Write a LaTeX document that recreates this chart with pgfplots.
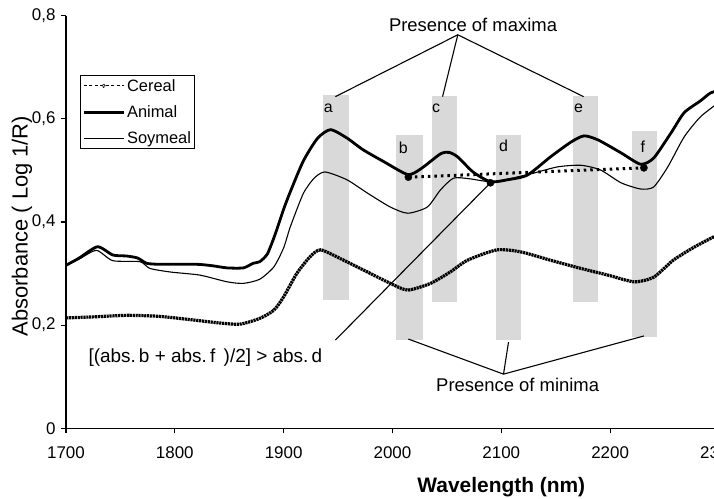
\documentclass[border=0pt]{standalone}
\usepackage{fontspec}
\setmainfont{Liberation Sans}
\usepackage{pgfplots}
\pgfplotsset{compat=1.18}
\definecolor{barg}{RGB}{217,217,217}
\begin{document}
\begin{tikzpicture}
\begin{axis}[
  name=ax,
  scale only axis, width=653bp, height=412.6bp,
  xmin=1700, xmax=2300, ymin=0, ymax=0.8,
  axis lines=left,
  axis line style={-, line width=1.3bp, black},
  xtick={1700,1800,1900,2000,2100,2200,2300},
  ytick={0,0.2,0.4,0.6,0.8},
  tick align=outside, major tick length=5bp,
  tick style={line width=1.1bp, black},
  /pgf/number format/use comma,
  /pgf/number format/1000 sep={},
  /pgf/number format/assume math mode=true,
  tick label style={font=\fontsize{17}{20}\selectfont},
  xticklabel style={yshift=-10bp},
  yticklabel style={xshift=-2bp},
  clip=false,
  legend style={at={(axis cs:1713,0.685)}, anchor=north west, draw=black,
    line width=1.2bp, font=\fontsize{16.5}{19}\selectfont, inner sep=1.5bp,
    row sep=9bp},
  legend cell align=left,
]
% gray bars
\addplot[fill=barg, draw=none, forget plot] coordinates {(1936.3,0.249) (1960.2,0.249) (1960.2,0.646) (1936.3,0.646)} -- cycle;
\addplot[fill=barg, draw=none, forget plot] coordinates {(2003.3,0.171) (2028.1,0.171) (2028.1,0.569) (2003.3,0.569)} -- cycle;
\addplot[fill=barg, draw=none, forget plot] coordinates {(2036.4,0.245) (2059.4,0.245) (2059.4,0.644) (2036.4,0.644)} -- cycle;
\addplot[fill=barg, draw=none, forget plot] coordinates {(2095.2,0.171) (2118.2,0.171) (2118.2,0.569) (2095.2,0.569)} -- cycle;
\addplot[fill=barg, draw=none, forget plot] coordinates {(2165.9,0.245) (2188.9,0.245) (2188.9,0.644) (2165.9,0.644)} -- cycle;
\addplot[fill=barg, draw=none, forget plot] coordinates {(2220.1,0.177) (2243.1,0.177) (2243.1,0.576) (2220.1,0.576)} -- cycle;

% Cereal
\addplot[black, line width=3.2bp, dash pattern=on 2.2bp off 0.7bp, smooth, tension=0.4,
  legend image code/.code={
    \draw[black, line width=0.8bp, dash pattern=on 3bp off 2.5bp] (0bp,0bp) -- (40bp,0bp);
    \draw[black, line width=0.8bp, fill=white] (20bp,0bp) circle (1.6bp);}]
coordinates {
(1700,0.214) (1725,0.216) (1756,0.219) (1786,0.217) (1817,0.210) (1842,0.204)
(1860,0.202) (1878,0.213) (1891,0.229) (1900,0.255) (1912,0.300) (1924,0.332)
(1934,0.346) (1955,0.326) (1977,0.303) (1998,0.281) (2014,0.268) (2035,0.281)
(2053,0.303) (2069,0.326) (2096,0.346) (2118,0.342) (2145,0.326) (2173,0.310)
(2198,0.297) (2222,0.284) (2240,0.293) (2258,0.326) (2277,0.351) (2295,0.371) (2300,0.373)
};
\addlegendentry{Cereal}

% Animal
\addplot[black, line width=2.8bp, smooth, tension=0.4,
  legend image code/.code={\draw[black, line width=2.8bp] (0bp,0bp) -- (40bp,0bp);}]
coordinates {
(1700,0.316) (1712,0.330) (1729,0.352) (1743,0.336) (1756,0.334) (1766,0.330)
(1774,0.320) (1786,0.318) (1820,0.318) (1835,0.315) (1848,0.311) (1863,0.311)
(1872,0.320) (1878,0.323) (1885,0.338) (1892,0.375) (1900,0.425) (1906,0.458)
(1918,0.518) (1931,0.562) (1943,0.579) (1958,0.563) (1973,0.540) (1992,0.517)
(2014,0.492) (2026,0.503) (2044,0.532) (2052,0.535) (2060,0.526) (2074,0.497)
(2090,0.478) (2106,0.482) (2124,0.491) (2145,0.526) (2164,0.555) (2176,0.567)
(2189,0.559) (2210,0.534) (2228,0.512) (2240,0.524) (2256,0.573) (2268,0.612)
(2283,0.635) (2292,0.650) (2300,0.655)
};
\addlegendentry{Animal}

% Soymeal
\addplot[black, line width=1.1bp, smooth, tension=0.4,
  legend image code/.code={\draw[black, line width=1.1bp] (0bp,0bp) -- (40bp,0bp);}]
coordinates {
(1700,0.316) (1712,0.328) (1728,0.345) (1743,0.325) (1768,0.323) (1777,0.310)
(1796,0.303) (1823,0.297) (1848,0.284) (1863,0.281) (1878,0.289) (1891,0.313)
(1900,0.350) (1906,0.390) (1918,0.455) (1928,0.485) (1938,0.497) (1958,0.482)
(1977,0.456) (1998,0.429) (2014,0.417) (2032,0.429) (2044,0.462) (2056,0.485)
(2070,0.484) (2090,0.478) (2106,0.483) (2130,0.495) (2152,0.507) (2173,0.510)
(2191,0.501) (2210,0.476) (2228,0.464) (2240,0.468) (2253,0.507) (2268,0.565)
(2283,0.604) (2300,0.632)
};
\addlegendentry{Soymeal}

% dotted b-f line
\addplot[black, line width=3bp, dash pattern=on 2.5bp off 4bp, forget plot]
coordinates {(2014.6,0.487) (2231,0.505)};
% points b, d, f
\addplot[only marks, mark=*, mark size=3.6bp, black, forget plot]
coordinates {(2014.6,0.487) (2090,0.476) (2231,0.505)};

% letters
\begin{scope}[font=\fontsize{16}{18}\selectfont]
\node at (axis cs:1941,0.621) {a};
\node at (axis cs:2010,0.544) {b};
\node at (axis cs:2040,0.621) {c};
\node at (axis cs:2102,0.548) {d};
\node at (axis cs:2171,0.621) {e};
\node at (axis cs:2230,0.546) {f};
\end{scope}

% maxima annotation
\draw[black, line width=1.1bp] (axis cs:1947.5,0.643) -- (axis cs:2060,0.763) -- (axis cs:2175.6,0.643);
\draw[black, line width=1.1bp] (axis cs:2060,0.763) -- (axis cs:2046,0.643);
\node[font=\fontsize{18.5}{21}\selectfont] at (axis cs:2074,0.783) {Presence of maxima};

% minima annotation
\draw[black, line width=1.1bp] (axis cs:2014.6,0.173) -- (axis cs:2102,0.105) -- (axis cs:2231,0.179);
\draw[black, line width=1.1bp] (axis cs:2102,0.105) -- (axis cs:2106.6,0.167);
\node[font=\fontsize{18.5}{21}\selectfont] at (axis cs:2115,0.085) {Presence of minima};

% condition annotation
\draw[black, line width=1.1bp] (axis cs:1947.5,0.171) -- (axis cs:2090,0.476);
\node[font=\fontsize{19}{22}\selectfont] at (axis cs:1828,0.138) {[(abs.\,b + abs.\,f\, )/2] > abs.\,d};

% axis labels
\node[rotate=90, font=\fontsize{22}{26}\selectfont] at ([xshift=-44bp]rel axis cs:0,0.49) {Absorbance ( Log 1/R)};
\node[font=\bfseries\fontsize{21}{25}\selectfont] at ([yshift=-59bp]axis cs:2100,0) {Wavelength (nm)};
\end{axis}
\pgfresetboundingbox
\path[use as bounding box] ([xshift=-66bp,yshift=-70bp]ax.south west) rectangle ([xshift=648bp,yshift=15.7bp]ax.north west);
\end{tikzpicture}
\end{document}
